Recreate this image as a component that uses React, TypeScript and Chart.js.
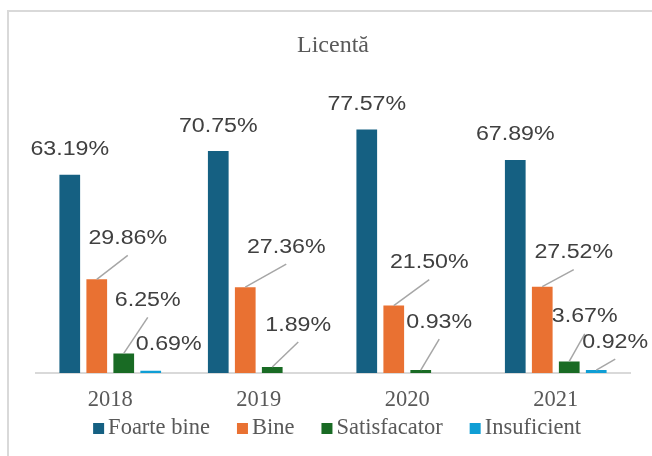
import React, { useEffect, useRef } from 'react';
import { Chart, registerables } from 'chart.js';

Chart.register(...registerables);

const title = 'Licentă';
const categories = ['2018', '2019', '2020', '2021'];
const seriesNames = ['Foarte bine', 'Bine', 'Satisfacator', 'Insuficient'];
const foarteBine = [63.19, 70.75, 77.57, 67.89];
const bine = [29.86, 27.36, 21.5, 27.52];
const satisfacator = [6.25, 1.89, 0.93, 3.67];
const insuficient: (number | null)[] = [0.69, null, null, 0.92];
const colors = ['#156082', '#E97132', '#196B24', '#0F9ED5'];
const yMax = 90;

// data-label placement: text centre relative to the bar top, and whether a leader line is drawn
const labelOffsets: (number[] | null)[][] = [
  [[0, -25, 0], [0, -25, 0], [0, -25, 0], [0, -25, 0]],
  [[31, -41, 1], [41, -40, 1], [35.5, -43, 1], [31.5, -34, 1]],
  [[24, -53, 1], [26, -42, 1], [18.5, -48, 1], [15.5, -44.5, 1]],
  [[18, -26, 0], null, null, [19, -28, 1]],
];

const SERIF = '"Liberation Serif", "Times New Roman", serif';
const SANS = '"Liberation Sans", Arial, sans-serif';
const LABEL_STRETCH = 1.16;

const dataLabelsPlugin = {
  id: 'dataLabelsCustom',
  afterDatasetsDraw(chart: any) {
    const ctx = chart.ctx;
    ctx.save();
    chart.data.datasets.forEach((ds: any, i: number) => {
      const meta = chart.getDatasetMeta(i);
      meta.data.forEach((bar: any, j: number) => {
        const v = ds.data[j];
        if (v == null) return;
        const off = labelOffsets[i][j];
        if (!off) return;
        const { x, y } = bar.getProps(['x', 'y'], true);
        const tx = x + off[0];
        const ty = y + off[1];
        if (off[2]) {
          ctx.save();
          ctx.strokeStyle = '#a6a6a6';
          ctx.lineWidth = 1.5;
          ctx.beginPath();
          ctx.moveTo(x, y);
          ctx.lineTo(tx, ty + 17);
          ctx.stroke();
          ctx.restore();
        }
        ctx.save();
        ctx.translate(tx, ty);
        ctx.scale(LABEL_STRETCH, 1);
        ctx.font = `20px ${SANS}`;
        ctx.fillStyle = '#404040';
        ctx.textAlign = 'center';
        ctx.textBaseline = 'middle';
        ctx.fillText(`${Number(v).toFixed(2)}%`, 0, 0);
        ctx.restore();
      });
    });
    ctx.restore();
  },
};

const legendPlugin = {
  id: 'legendCustom',
  afterDraw(chart: any) {
    const ctx = chart.ctx;
    ctx.save();
    ctx.font = `22.5px ${SERIF}`;
    ctx.textBaseline = 'alphabetic';
    ctx.textAlign = 'left';
    const box = 11;
    const boxGap = 4;
    const itemGap = 27;
    const items = chart.data.datasets.map((ds: any) => ({
      label: ds.label,
      color: ds.backgroundColor,
      w: ctx.measureText(ds.label).width,
    }));
    const total =
      items.reduce((s: number, it: any) => s + box + boxGap + it.w, 0) + itemGap * (items.length - 1);
    const cx = 337;
    let x = cx - total / 2;
    const baseline = 434;
    items.forEach((it: any) => {
      ctx.fillStyle = it.color;
      ctx.fillRect(x, 423, box, box);
      x += box + boxGap;
      ctx.fillStyle = '#595959';
      ctx.fillText(it.label, x, baseline);
      x += it.w + itemGap;
    });
    ctx.restore();
  },
};

export default function App() {
  const canvasRef = useRef<HTMLCanvasElement | null>(null);

  useEffect(() => {
    if (!canvasRef.current) return;
    const seriesData = [foarteBine, bine, satisfacator, insuficient];
    const chart = new Chart(canvasRef.current, {
      type: 'bar',
      data: {
        labels: categories,
        datasets: seriesNames.map((name, i) => ({
          label: name,
          data: seriesData[i] as any,
          backgroundColor: colors[i],
          borderWidth: 0,
          categoryPercentage: 0.727,
          barPercentage: 0.767,
        })),
      },
      options: {
        responsive: false,
        animation: false,
        layout: { padding: { left: 36, right: 22, top: 0, bottom: 43 } },
        plugins: {
          legend: { display: false },
          tooltip: { enabled: false },
          title: {
            display: true,
            text: title,
            color: '#595959',
            font: { family: SERIF, size: 24, weight: 'normal' as any },
            padding: { top: 31.5, bottom: 30.3 },
          },
        },
        scales: {
          x: {
            grid: { display: false, drawTicks: false, tickLength: 0 },
            border: { display: true, color: '#d9d9d9', width: 2 },
            ticks: {
              color: '#595959',
              font: { family: SERIF, size: 22.5 },
              padding: 13.8,
              maxRotation: 0,
            },
            afterFit: (scale: any) => {
              scale.height = 40;
            },
          },
          y: {
            display: false,
            min: 0,
            max: yMax,
            grid: { display: false },
          },
        },
      },
      plugins: [dataLabelsPlugin, legendPlugin],
    });
    return () => chart.destroy();
  }, []);

  return (
    <div
      style={{
        position: 'absolute',
        left: 0,
        top: 0,
        width: 652,
        height: 456,
        overflow: 'hidden',
        background: '#ffffff',
      }}
    >
      <div
        style={{
          position: 'absolute',
          left: 7,
          top: 10,
          width: 700,
          height: 500,
          borderLeft: '2px solid #d9d9d9',
          borderTop: '2px solid #d9d9d9',
        }}
      />
      <canvas
        ref={canvasRef}
        width={652}
        height={456}
        style={{ position: 'absolute', left: 0, top: 0, width: 652, height: 456 }}
      />
    </div>
  );
}
